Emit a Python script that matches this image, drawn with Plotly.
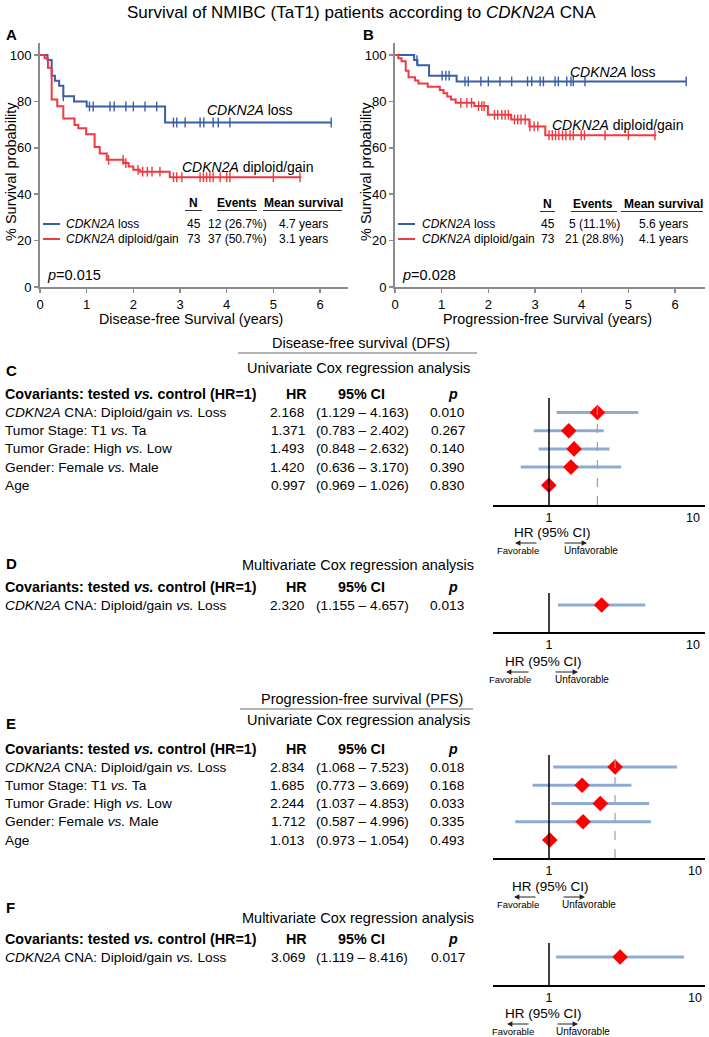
import plotly.graph_objects as go

W, H = 709, 1037
FONT = "Liberation Sans, Arial, sans-serif"
BLUE = "#3a5da8"
RED = "#ee3a40"
CI_COL = "#8eabd3"
GRAY = "#8c8c8c"

# ---------------- Kaplan-Meier data (years, % survival) ----------------
a_loss_t = [0, 0.16, 0.25, 0.32, 0.41, 0.50, 0.73, 1.00, 2.68, 6.24]
a_loss_s = [100, 97.8, 91.1, 88.9, 86.7, 82.2, 80.0, 77.8, 70.9, 70.9]
a_loss_cens = [0.50, 1.06, 1.14, 1.50, 1.59, 1.84, 2.00, 2.25, 2.50, 2.86, 2.93,
               3.11, 3.43, 3.51, 3.71, 3.82, 4.07, 6.24]

a_gain_t = [0, 0.10, 0.17, 0.25, 0.37, 0.50, 0.74, 0.82, 0.99, 1.17, 1.28, 1.43,
            1.79, 1.90, 2.00, 2.14, 2.78, 5.60]
a_gain_s = [100, 98.6, 94.5, 80.8, 77.9, 72.6, 69.8, 68.4, 65.8, 60.3, 57.5, 54.8,
            53.4, 51.9, 50.5, 49.7, 47.3, 47.3]
a_gain_cens = [1.47, 1.78, 1.84, 2.10, 2.20, 2.30, 2.40, 2.57, 2.86, 2.93, 3.04,
               3.43, 3.50, 3.57, 3.64, 3.71, 3.86, 4.00, 4.07, 5.00, 5.57]

b_loss_t = [0, 0.41, 0.48, 0.73, 1.32, 6.24]
b_loss_s = [100, 97.8, 95.6, 91.1, 88.6, 88.6]
b_loss_cens = [0.47, 1.01, 1.09, 1.16, 1.50, 1.57, 1.84, 2.00, 2.25, 2.50, 2.84,
               2.93, 3.11, 3.18, 3.43, 3.50, 3.68, 3.77, 3.82, 4.07, 6.24]

b_gain_t = [0, 0.07, 0.14, 0.23, 0.29, 0.43, 0.50, 0.70, 0.96, 1.04, 1.12, 1.20,
            1.30, 1.70, 1.99, 2.49, 2.88, 3.22, 5.60]
b_gain_s = [100, 98.6, 97.3, 93.2, 90.4, 89.0, 87.7, 86.3, 84.9, 83.5, 82.1, 80.8,
            79.4, 78.0, 74.2, 72.2, 69.2, 65.4, 65.4]
b_gain_cens = [1.41, 1.54, 1.64, 1.79, 1.86, 1.91, 2.13, 2.20, 2.29, 2.36, 2.43,
               2.56, 2.63, 2.70, 2.79, 2.89, 2.98, 3.06, 3.30, 3.37, 3.44, 3.51,
               3.59, 3.66, 3.75, 3.82, 3.99, 4.06, 4.50, 5.00, 5.57]

km_groups = ["<i>CDKN2A</i> loss", "<i>CDKN2A</i> diploid/gain"]
a_n = ["45", "73"]
a_events = ["12 (26.7%)", "37 (50.7%)"]
a_mean = ["4.7 years", "3.1 years"]
b_n = ["45", "73"]
b_events = ["5 (11.1%)", "21 (28.8%)"]
b_mean = ["5.6 years", "4.1 years"]
a_p = "0.015"
b_p = "0.028"
km_yticks = [0, 20, 40, 60, 80, 100]
km_xticks = [0, 1, 2, 3, 4, 5, 6]

# ---------------- Cox regression data ----------------
uni_labels = ["<i>CDKN2A</i> CNA: Diploid/gain <i>vs.</i> Loss",
              "Tumor Stage: T1 <i>vs.</i> Ta",
              "Tumor Grade: High <i>vs.</i> Low",
              "Gender: Female <i>vs.</i> Male",
              "Age"]
multi_labels = ["<i>CDKN2A</i> CNA: Diploid/gain <i>vs.</i> Loss"]

c_hr = [2.168, 1.371, 1.493, 1.420, 0.997]
c_lo = [1.129, 0.783, 0.848, 0.636, 0.969]
c_hi = [4.163, 2.402, 2.632, 3.170, 1.026]
c_p = [0.010, 0.267, 0.140, 0.390, 0.830]

d_hr = [2.320]
d_lo = [1.155]
d_hi = [4.657]
d_p = [0.013]

e_hr = [2.834, 1.685, 2.244, 1.712, 1.013]
e_lo = [1.068, 0.773, 1.037, 0.587, 0.973]
e_hi = [7.523, 3.669, 4.853, 4.996, 1.054]
e_p = [0.018, 0.168, 0.033, 0.335, 0.493]

f_hr = [3.069]
f_lo = [1.119]
f_hi = [8.416]
f_p = [0.017]

forest_ticks = [1, 10]


def fx(px):
    return px / W


def fy(py):
    return 1 - py / H


def step_val(ts, ss, t):
    v = ss[0]
    for ti, si in zip(ts, ss):
        if ti <= t:
            v = si
    return v


fig = go.Figure()
annotations = []
shapes = []


def text(px, py, s, size=13.7, xanchor="left", bold=False, color="black", angle=0):
    if bold:
        s = "<b>" + s + "</b>"
    annotations.append(dict(x=fx(px), y=fy(py), xref="paper", yref="paper", text=s,
                            showarrow=False, xanchor=xanchor, yanchor="middle",
                            textangle=angle,
                            font=dict(family=FONT, size=size, color=color)))


def hline(x0, x1, py, color="#444", width=1.0, dash=None):
    shapes.append(dict(type="line", xref="paper", yref="paper", x0=fx(x0), x1=fx(x1),
                       y0=fy(py), y1=fy(py),
                       line=dict(color=color, width=width, dash=dash)))


def arrow(head_x, tail_x, py):
    annotations.append(dict(x=fx(head_x), y=fy(py), xref="paper", yref="paper",
                            ax=tail_x - head_x, ay=0, axref="pixel", ayref="pixel",
                            text="", showarrow=True, arrowhead=2, arrowsize=0.9,
                            arrowwidth=1.2, arrowcolor="#222"))


# ---------------- Kaplan-Meier panels ----------------
def km_panel(xa, ya, curves):
    for ts, ss, cens, col in curves:
        fig.add_trace(go.Scatter(x=ts, y=ss, mode="lines", xaxis=xa, yaxis=ya,
                                 line=dict(shape="hv", color=col, width=2),
                                 hoverinfo="skip"))
        fig.add_trace(go.Scatter(x=cens, y=[step_val(ts, ss, c) for c in cens],
                                 mode="markers", xaxis=xa, yaxis=ya,
                                 marker=dict(symbol="line-ns-open", size=7, color=col,
                                             line=dict(color=col, width=1.4)),
                                 hoverinfo="skip", cliponaxis=False))


km_panel("x", "y", [(a_loss_t, a_loss_s, a_loss_cens, BLUE),
                    (a_gain_t, a_gain_s, a_gain_cens, RED)])
km_panel("x2", "y2", [(b_loss_t, b_loss_s, b_loss_cens, BLUE),
                      (b_gain_t, b_gain_s, b_gain_cens, RED)])

PX_PER_YEAR = 46.67
PX_PER_PCT = 2.32
km_x_common = dict(showline=True, linecolor=GRAY, linewidth=2, ticks="outside",
                   ticklen=4, tickwidth=1.5, tickcolor=GRAY, tickvals=km_xticks,
                   showgrid=False, zeroline=False, automargin=False,
                   tickfont=dict(family=FONT, size=13, color="black"))
km_y_common = dict(showline=True, linecolor=GRAY, linewidth=2, ticks="outside",
                   ticklen=4, tickwidth=1.5, tickcolor=GRAY, tickvals=km_yticks,
                   showgrid=False, zeroline=False, automargin=False,
                   range=[0, (287 - 43) / PX_PER_PCT],
                   domain=[fy(287), fy(43)],
                   tickfont=dict(family=FONT, size=13, color="black"))

layout_axes = {}
layout_axes["xaxis"] = dict(km_x_common, domain=[fx(40), fx(348)],
                            range=[0, (348 - 40) / PX_PER_YEAR], anchor="y")
layout_axes["yaxis"] = dict(km_y_common, anchor="x")
layout_axes["xaxis2"] = dict(km_x_common, domain=[fx(395), fx(705)],
                             range=[0, (705 - 395) / PX_PER_YEAR], anchor="y2")
layout_axes["yaxis2"] = dict(km_y_common, anchor="x2")

# KM annotations
text(205, 110, km_groups[0], size=14)
text(180, 167, km_groups[1], size=14)
text(568, 72, km_groups[0], size=14)
text(550, 125, km_groups[1], size=14)

for (nx, ex, mx, lx0, tx, ns, evs, ms, uls, hy) in [
        (193, 237, 303, 43, 64, a_n, a_events, a_mean,
         [(185, 202), (217, 257), (263, 342)], 203),
        (547, 593, 663, 398, 420, b_n, b_events, b_mean,
         [(540, 555), (571, 617), (621, 703)], 204)]:
    text(nx, hy, "N", size=12, xanchor="center", bold=True)
    text(ex, hy, "Events", size=12, xanchor="center", bold=True)
    text(mx, hy, "Mean survival", size=12, xanchor="center", bold=True)
    for u0, u1 in uls:
        hline(u0, u1, hy + 7.5, color="#333", width=1)
    for i, (col, ry) in enumerate([(BLUE, 224), (RED, 239)]):
        hline(lx0, lx0 + 17, ry, color=col, width=2)
        text(tx, ry, km_groups[i], size=12)
        text(nx + 1, ry, ns[i], size=12, xanchor="center")
        text(ex + 1, ry, evs[i], size=12, xanchor="center")
        text(mx, ry, ms[i], size=12, xanchor="center")

text(45, 275, "<i>p</i>=" + a_p, size=14.5)
text(400, 275, "<i>p</i>=" + b_p, size=14.5)

text(191, 319, "Disease-free Survival (years)", size=14.3, xanchor="center")
text(547, 319, "Progression-free Survival (years)", size=14.3, xanchor="center")
text(11, 172, "% Survival probability", size=14.5, xanchor="center", angle=-90)
text(366, 172, "% Survival probability", size=14.5, xanchor="center", angle=-90)

# ---------------- Forest / Cox tables ----------------
forest_specs = [
    ("3", uni_labels, c_hr, c_lo, c_hi, c_p, 398, 412.5, 18.2, 505, 144, True,
     (552, 532), 543, (515, 538, 518), (587, 563, 591), 550),
    ("4", multi_labels, d_hr, d_lo, d_hi, d_p, 593, 605, 18.2, 632, 144, False,
     (543, 661), 672, (506, 530, 510), (578, 554, 582), 679),
    ("5", uni_labels, e_hr, e_lo, e_hi, e_p, 755, 767, 18.25, 858, 146, True,
     (550, 886), 897, (514, 537, 518), (585, 562, 589), 904),
    ("6", multi_labels, f_hr, f_lo, f_hi, f_p, 943, 957, 18.2, 985, 146, False,
     (543, 1013), 1024, (507, 530, 513), (578, 556, 583), 1031),
]

ONE_PX = 549
AX_L, AX_R = 493, 705
for (sfx, labels, hr, lo, hi, pv, top, first, sp, bottom, dec, dashed,
     hrlab, ay_, fav, unfav, favy) in forest_specs:
    xa, ya = "x" + sfx, "y" + sfx
    yvals = [-i for i in range(len(hr))]
    cx, cy = [], []
    for l, h, yv in zip(lo, hi, yvals):
        cx += [l, h, None]
        cy += [yv, yv, None]
    fig.add_trace(go.Scatter(x=cx, y=cy, mode="lines", xaxis=xa, yaxis=ya,
                             line=dict(color=CI_COL, width=3), hoverinfo="skip"))
    fig.add_trace(go.Scatter(x=hr, y=yvals, mode="markers", xaxis=xa, yaxis=ya,
                             marker=dict(symbol="diamond", size=12, color="#ff0000",
                                         line=dict(width=0)),
                             hoverinfo="skip", cliponaxis=False))
    layout_axes["xaxis" + sfx] = dict(
        type="log", domain=[fx(AX_L), fx(AX_R)],
        range=[-(ONE_PX - AX_L) / dec, (AX_R - ONE_PX) / dec],
        showline=True, linecolor="black", linewidth=1.5, ticks="",
        tickvals=forest_ticks, ticktext=[str(t) for t in forest_ticks],
        showgrid=False, zeroline=False, automargin=False, anchor=ya,
        tickfont=dict(family=FONT, size=12.5, color="black"))
    layout_axes["yaxis" + sfx] = dict(
        domain=[fy(bottom), fy(top)],
        range=[-(bottom - first) / sp, (first - top) / sp],
        visible=False, anchor=xa, showgrid=False, zeroline=False)
    shapes.append(dict(type="line", xref=xa, yref=ya + " domain", x0=1, x1=1,
                       y0=0, y1=1, line=dict(color="black", width=1.5)))
    if dashed:
        shapes.append(dict(type="line", xref=xa, yref=ya + " domain", x0=hr[0],
                           x1=hr[0], y0=0, y1=1,
                           line=dict(color="#a0a0a0", width=1.2, dash="dash")))
    text(hrlab[0], hrlab[1], "HR (95% CI)", size=13.5, xanchor="center")
    arrow(fav[0], fav[1], ay_)
    arrow(unfav[0], unfav[1], ay_)
    text(fav[2], favy, "Favorable", size=9.5, xanchor="center")
    text(unfav[2], favy, "Unfavorable", size=10, xanchor="center")
    hy = first - sp
    text(3, hy, "Covariants: tested <i>vs.</i> control (HR=1)", size=14.3, bold=True)
    text(296, hy, "HR", size=14.3, xanchor="center", bold=True)
    text(361, hy, "95% CI", size=14.3, xanchor="center", bold=True)
    text(453, hy, "<i>p</i>", size=14.3, xanchor="center", bold=True)
    for i, lab in enumerate(labels):
        ry = first + i * sp
        text(3, ry, lab, size=13.7)
        text(307, ry, f"{hr[i]:.3f}", size=13.7, xanchor="right")
        text(362, ry, f"({lo[i]:.3f} \u2013 {hi[i]:.3f})", size=13.7, xanchor="center")
        text(467, ry, f"{pv[i]:.3f}", size=13.7, xanchor="right")

# section headings
text(361, 343, "Disease-free survival (DFS)", size=14.5, xanchor="center")
hline(238, 477, 353, color="#9a9a9a", width=1.5)
text(358, 368, "Univariate Cox regression analysis", size=14.5, xanchor="center")
text(358, 565, "Multivariate Cox regression analysis", size=14.5, xanchor="center")
text(362, 699, "Progression-free survival (PFS)", size=14.5, xanchor="center")
hline(240, 473, 709, color="#9a9a9a", width=1.5)
text(358, 720, "Univariate Cox regression analysis", size=14.5, xanchor="center")
text(358, 918, "Multivariate Cox regression analysis", size=14.5, xanchor="center")

for lab, lx, ly in [("A", 4, 35), ("B", 361, 35), ("C", 4, 370), ("D", 4, 563),
                    ("E", 4, 723), ("F", 4, 907)]:
    text(lx, ly, lab, size=15, bold=True)

text(361, 13, "Survival of NMIBC (TaT1) patients according to <i>CDKN2A</i> CNA",
     size=17, xanchor="center")

fig.update_layout(width=W, height=H, margin=dict(l=0, r=0, t=0, b=0),
                  paper_bgcolor="white", plot_bgcolor="white", showlegend=False,
                  annotations=annotations, shapes=shapes, hovermode=False,
                  font=dict(family=FONT, color="black"), **layout_axes)

fig.write_html("out.html", config={"displayModeBar": False, "staticPlot": True},
               post_script="document.body.style.margin='0';"
                           "document.body.style.overflow='hidden';"
                           "document.documentElement.style.overflow='hidden';")
